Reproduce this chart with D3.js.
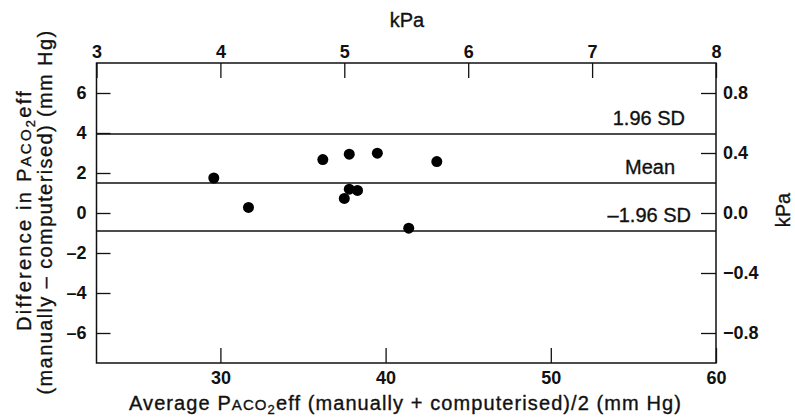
<!DOCTYPE html>
<html>
<head>
<meta charset="utf-8">
<script src="https://cdn.jsdelivr.net/npm/d3@7"></script>
<style>
  body { margin: 0; background: #fff; }
  svg { display: block; }
  text { font-family: "Liberation Sans", Arial, sans-serif; fill: #111; }
  .title, .ref { stroke: #111; stroke-width: 0.35px; }
  .tick line { stroke: #111; stroke-width: 1.3; }
  .tick text { font-size: 18px; font-weight: bold; }
</style>
</head>
<body>
<svg id="chart" width="795" height="417"></svg>
<script>
// Bland-Altman data, mm Hg
var avgMmHg  = [29.6, 31.7, 36.2, 37.8, 39.5, 43.1, 37.8, 38.3, 37.5, 41.4];
var diffMmHg = [1.75, 0.28, 2.67, 2.94, 2.99, 2.57, 1.19, 1.13, 0.73, -0.76];

// limits of agreement
var refValues = [3.95, 1.5, -0.9];
var refLabels = ["1.96 SD", "Mean", "\u20131.96 SD"];

// tick labels
var bottomTicks = [30, 40, 50, 60];
var topTicks = [3, 4, 5, 6, 7, 8];
var leftTicks = [-6, -4, -2, 0, 2, 4, 6];
var rightTicks = [-0.8, -0.4, 0, 0.4, 0.8];

var svg = d3.select("#chart");
// plot box (note: "top" is taken by window.top)
var pLeft = 96.5, pRight = 716, pTop = 63, pBottom = 363;

var x = d3.scaleLinear().domain([22.5, 60]).range([pLeft, pRight]);
var xKpa = d3.scaleLinear().domain([3, 8]).range([pLeft, pRight]);
var y = d3.scaleLinear().domain([-7.5, 7.5]).range([pBottom, pTop]);
var yKpa = d3.scaleLinear().domain([-1, 1]).range([pBottom, pTop]);

function dash(s) { return String(s).replace("-", "\u2013"); }

function axis(g) {
  g.select(".domain").remove();
}

// stretch a text to the width it has in the scan
function fit(t, width) {
  var w = t.node().getComputedTextLength();
  var n = t.text().length;
  t.style("letter-spacing", ((width - w) / n) + "px");
}

svg.append("g")
  .attr("transform", "translate(0," + pBottom + ")")
  .call(d3.axisBottom(x).tickValues(bottomTicks).tickSize(-15).tickPadding(8))
  .call(axis);

svg.append("g")
  .attr("transform", "translate(0," + pTop + ")")
  .call(d3.axisTop(xKpa).tickValues(topTicks).tickSize(-15).tickPadding(5)
    .tickFormat(d3.format("d")))
  .call(axis);

svg.append("g")
  .attr("transform", "translate(" + pLeft + ",0)")
  .call(d3.axisLeft(y).tickValues(leftTicks).tickSize(-14).tickPadding(10)
    .tickFormat(function(d) { return dash(d); }))
  .call(axis);

svg.append("g")
  .attr("transform", "translate(" + pRight + ",0)")
  .call(d3.axisRight(yKpa).tickValues(rightTicks).tickSize(-15).tickPadding(7)
    .tickFormat(function(d) { return dash(d3.format(".1f")(d)); }))
  .call(axis);

// frame
svg.append("rect")
  .attr("x", pLeft).attr("y", pTop)
  .attr("width", pRight - pLeft).attr("height", pBottom - pTop)
  .attr("fill", "none").attr("stroke", "#111").attr("stroke-width", 1.5);

// mean and limits
svg.selectAll("line.ref")
  .data(refValues)
  .enter().append("line")
  .attr("class", "ref")
  .attr("x1", pLeft).attr("x2", pRight)
  .attr("y1", function(d) { return y(d); })
  .attr("y2", function(d) { return y(d); })
  .attr("stroke", "#111").style("stroke-width", 1.5);

var refRight = [685, 675, 691];
svg.selectAll("text.ref")
  .data(refValues)
  .enter().append("text")
  .attr("class", "ref")
  .attr("x", function(d, i) { return refRight[i]; })
  .attr("y", function(d) { return y(d) - 9; })
  .attr("text-anchor", "end")
  .style("font-size", "20px")
  .text(function(d, i) { return refLabels[i]; });

// points
svg.selectAll("circle.pt")
  .data(avgMmHg)
  .enter().append("circle")
  .attr("class", "pt")
  .attr("cx", function(d) { return x(d); })
  .attr("cy", function(d, i) { return y(diffMmHg[i]); })
  .attr("r", 5.5)
  .attr("fill", "#000");

// "PACO2eff" with small caps and subscript
function paco(t, size) {
  t.append("tspan").text("P");
  t.append("tspan").style("font-size", (size * 0.75) + "px").text("ACO");
  t.append("tspan").style("font-size", (size * 0.65) + "px").attr("dy", size * 0.18).text("2");
  t.append("tspan").attr("dy", -size * 0.18).text("eff");
}

var bt = svg.append("text")
  .attr("class", "title")
  .attr("x", 405.5).attr("y", 410)
  .attr("text-anchor", "middle")
  .style("font-size", "20px");
bt.append("tspan").text("Average ");
paco(bt, 20);
bt.append("tspan").text(" (manually + computerised)/2 (mm Hg)");
fit(bt, 553);

var l1 = svg.append("text")
  .attr("class", "title")
  .attr("transform", "translate(31,210) rotate(-90)")
  .attr("text-anchor", "middle")
  .style("font-size", "20px");
l1.append("tspan").text("Difference in ");
paco(l1, 20);
fit(l1, 242);

var l2 = svg.append("text")
  .attr("class", "title")
  .attr("transform", "translate(52,212) rotate(-90)")
  .attr("text-anchor", "middle")
  .style("font-size", "20px")
  .text("(manually \u2013 computerised) (mm Hg)");
fit(l2, 365);

svg.append("text")
  .attr("class", "title")
  .attr("x", 407).attr("y", 27)
  .attr("text-anchor", "middle")
  .style("font-size", "20px")
  .text("kPa");

svg.append("text")
  .attr("class", "title")
  .attr("transform", "translate(790,210) rotate(-90)")
  .attr("text-anchor", "middle")
  .style("font-size", "20px")
  .text("kPa");
</script>
</body>
</html>
